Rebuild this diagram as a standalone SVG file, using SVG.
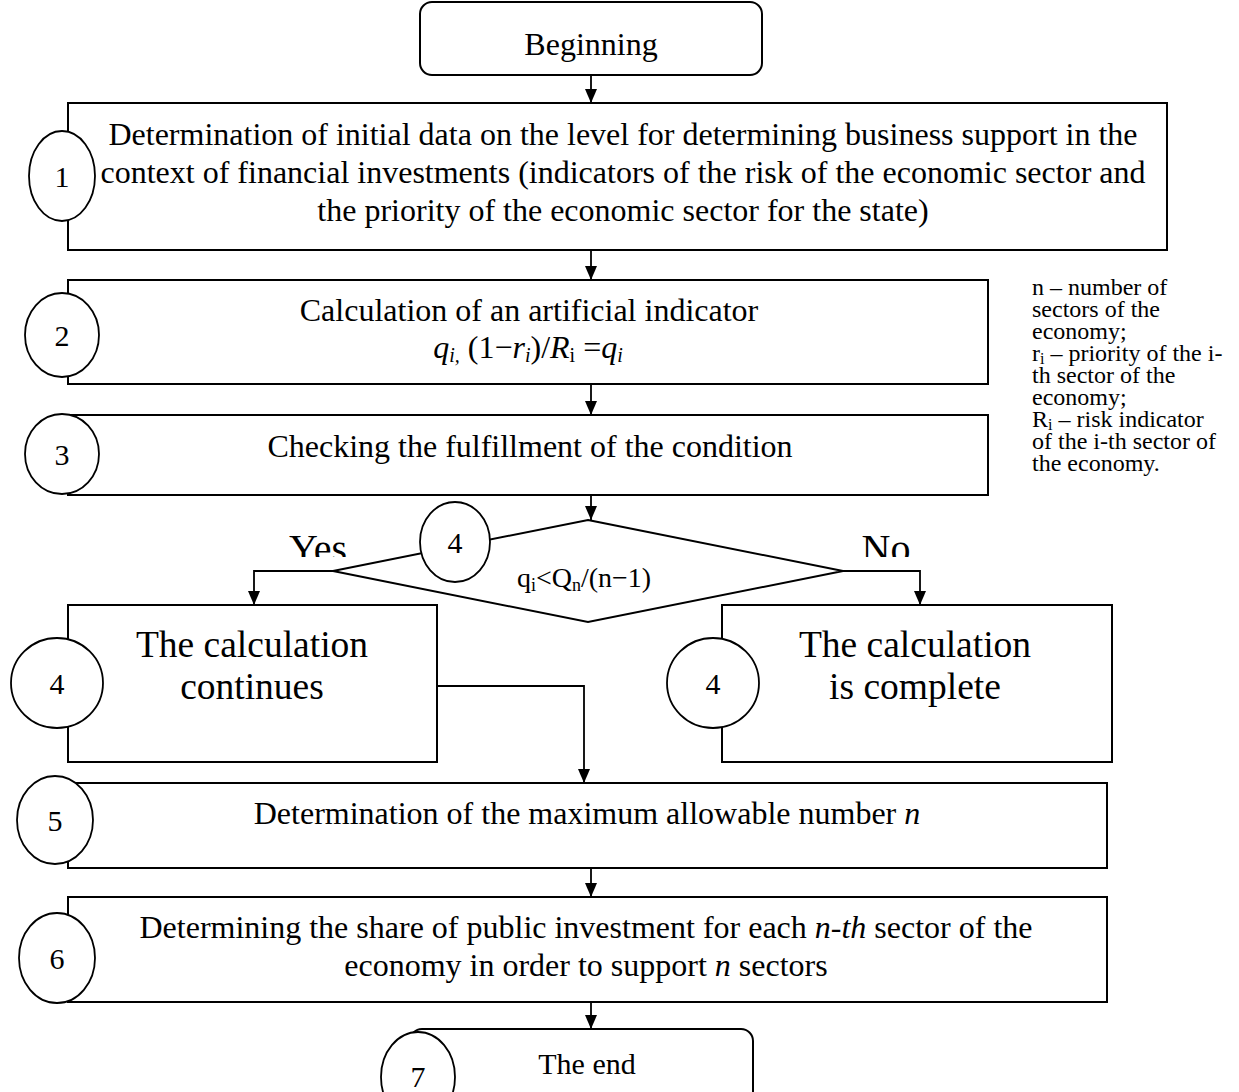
<svg xmlns="http://www.w3.org/2000/svg" width="1239" height="1092" viewBox="0 0 1239 1092">
<defs>
<marker id="ah" markerWidth="14" markerHeight="12" refX="14" refY="6" orient="auto" markerUnits="userSpaceOnUse" viewBox="0 0 14 12">
<path d="M0,0 L14,6 L0,12 Z" fill="#000"/>
</marker>
<clipPath id="yn"><rect x="250" y="520" width="700" height="37"/></clipPath>
</defs>
<style>
.box{fill:#fff;stroke:#000;stroke-width:2}
.circ{fill:#fff;stroke:#000;stroke-width:1.8}
.ln{fill:none;stroke:#000;stroke-width:1.8}
text{font-family:"Liberation Serif","Times New Roman",serif;fill:#000}
.t{font-size:32px;text-anchor:middle}
.big{font-size:37.5px;text-anchor:middle}
.yn{font-size:40px;text-anchor:middle}
.num{font-size:30px;text-anchor:middle}
.note{font-size:24px}
.f{font-size:28px;text-anchor:middle}
</style>
<rect width="1239" height="1092" fill="#fff"/>
<g id="connectors">
<path class="ln" d="M591,75 V103" marker-end="url(#ah)"/>
<path class="ln" d="M591,250 V280" marker-end="url(#ah)"/>
<path class="ln" d="M591,384 V415" marker-end="url(#ah)"/>
<path class="ln" d="M591,495 V520" marker-end="url(#ah)"/>
<path class="ln" d="M333,571 H254 V605" marker-end="url(#ah)"/>
<path class="ln" d="M843,571 H920 V605" marker-end="url(#ah)"/>
<path class="ln" d="M437,686 H584 V783" marker-end="url(#ah)"/>
<path class="ln" d="M591,868 V897" marker-end="url(#ah)"/>
<path class="ln" d="M591,1002 V1029" marker-end="url(#ah)"/>
</g>
<g id="n-begin">
<rect class="box" x="420" y="2" width="342" height="73" rx="12"/>
<text class="t" x="591" y="55">Beginning</text>
</g>
<g id="n1">
<rect class="box" x="68" y="103" width="1099" height="147"/>
<text class="t" x="623" y="145">Determination of initial data on the level for determining business support in the</text>
<text class="t" x="623" y="183">context of financial investments (indicators of the risk of the economic sector and</text>
<text class="t" x="623" y="221">the priority of the economic sector for the state)</text>
<ellipse class="circ" cx="62" cy="176" rx="33" ry="45"/>
<text class="num" x="62" y="187">1</text>
</g>
<g id="n2">
<rect class="box" x="68" y="280" width="920" height="104"/>
<text class="t" x="529" y="321">Calculation of an artificial indicator</text>
<text class="t" x="528" y="358"><tspan font-style="italic">q</tspan><tspan font-style="italic" font-size="20" dy="4">i,</tspan><tspan dy="-4"> (1−</tspan><tspan font-style="italic">r</tspan><tspan font-style="italic" font-size="20" dy="4">i</tspan><tspan dy="-4">)/</tspan><tspan font-style="italic">R</tspan><tspan font-size="20" dy="4">i</tspan><tspan dy="-4"> =</tspan><tspan font-style="italic">q</tspan><tspan font-style="italic" font-size="20" dy="4">i</tspan></text>
<ellipse class="circ" cx="62" cy="335" rx="37" ry="42"/>
<text class="num" x="62" y="346">2</text>
</g>
<g id="n3">
<rect class="box" x="68" y="415" width="920" height="80"/>
<text class="t" x="530" y="457">Checking the fulfillment of the condition</text>
<ellipse class="circ" cx="62" cy="454" rx="37" ry="40"/>
<text class="num" x="62" y="465">3</text>
</g>
<g id="n4-decision">
<polygon class="box" points="588,520 843,571 588,622 333,571"/>
<text class="f" x="584" y="587">q<tspan font-size="18" dy="4">i</tspan><tspan dy="-4">&lt;Q</tspan><tspan font-size="18" dy="4">n</tspan><tspan dy="-4">/(n−1)</tspan></text>
<ellipse class="circ" cx="455" cy="542" rx="35" ry="40"/>
<text class="num" x="455" y="553">4</text>
<g clip-path="url(#yn)">
<text class="yn" x="318" y="562">Yes</text>
<text class="yn" x="886" y="562">No</text>
</g>
</g>
<g id="n4-continue">
<rect class="box" x="68" y="605" width="369" height="157"/>
<text class="big" x="252" y="657">The calculation</text>
<text class="big" x="252" y="699">continues</text>
<ellipse class="circ" cx="57" cy="683" rx="46" ry="45"/>
<text class="num" x="57" y="694">4</text>
</g>
<g id="n4-complete">
<rect class="box" x="722" y="605" width="390" height="157"/>
<text class="big" x="915" y="657">The calculation</text>
<text class="big" x="915" y="699">is complete</text>
<ellipse class="circ" cx="713" cy="683" rx="46" ry="45"/>
<text class="num" x="713" y="694">4</text>
</g>
<g id="n5">
<rect class="box" x="68" y="783" width="1039" height="85"/>
<text class="t" x="587" y="824">Determination of the maximum allowable number <tspan font-style="italic">n</tspan></text>
<ellipse class="circ" cx="55" cy="820" rx="38" ry="44"/>
<text class="num" x="55" y="831">5</text>
</g>
<g id="n6">
<rect class="box" x="68" y="897" width="1039" height="105"/>
<text class="t" x="586" y="938">Determining the share of public investment for each <tspan font-style="italic">n-th</tspan> sector of the</text>
<text class="t" x="586" y="976">economy in order to support <tspan font-style="italic">n</tspan> sectors</text>
<ellipse class="circ" cx="57" cy="958" rx="38" ry="45"/>
<text class="num" x="57" y="969">6</text>
</g>
<g id="n7-end">
<rect class="box" x="410" y="1029" width="343" height="80" rx="12"/>
<ellipse class="circ" cx="418" cy="1077" rx="37" ry="45"/>
<text class="num" x="418" y="1087">7</text>
<text class="t" x="587" y="1074" style="font-size:30px">The end</text>
</g>
<g id="note">
<text class="note" x="1032" y="295">n – number of</text>
<text class="note" x="1032" y="317">sectors of the</text>
<text class="note" x="1032" y="339">economy;</text>
<text class="note" x="1032" y="361">r<tspan font-size="16" dy="3">i</tspan><tspan dy="-3"> – priority of the i-</tspan></text>
<text class="note" x="1032" y="383">th sector of the</text>
<text class="note" x="1032" y="405">economy;</text>
<text class="note" x="1032" y="427">R<tspan font-size="16" dy="3">i</tspan><tspan dy="-3"> – risk indicator</tspan></text>
<text class="note" x="1032" y="449">of the i-th sector of</text>
<text class="note" x="1032" y="471">the economy.</text>
</g>
</svg>
